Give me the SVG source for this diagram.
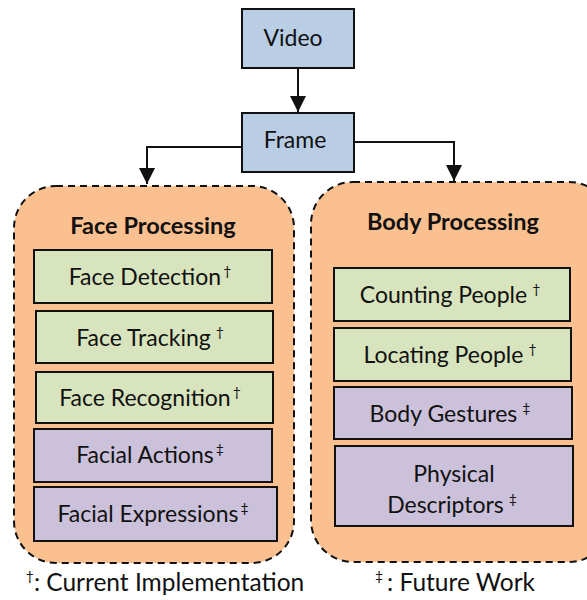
<svg xmlns="http://www.w3.org/2000/svg" width="587" height="600" viewBox="0 0 587 600">
<style>
.t{font-family:Lato,"Open Sans","Liberation Sans",sans-serif;font-size:23px;fill:#111;text-anchor:middle}
.b{font-weight:bold;font-size:23.5px}
.l{font-size:24.5px}
.s{font-size:14px}
.blue{fill:#b9cde5;stroke:#111;stroke-width:2}
.green{fill:#d7e4bd;stroke:#111;stroke-width:2}
.purple{fill:#ccc1da;stroke:#111;stroke-width:2}
.cont{fill:#fac090;stroke:#111;stroke-width:2;stroke-dasharray:7 5}
.conn{fill:none;stroke:#111;stroke-width:2}
</style>
<defs>
<marker id="ah" markerWidth="16" markerHeight="16" viewBox="0 0 16 16" refX="16" refY="8" orient="auto" markerUnits="userSpaceOnUse">
<path d="M0,0 L16,8 L0,16 Z" fill="#111"/>
</marker>
</defs>
<g id="face-processing">
<rect class="cont" x="14" y="186" width="280" height="377" rx="42"/>
<text class="t b" x="153" y="234">Face Processing</text>
</g>
<g id="body-processing">
<rect class="cont" x="311" y="182" width="300" height="380" rx="42"/>
<text class="t b" x="453" y="230">Body Processing</text>
</g>
<g id="video"><rect class="blue" x="242" y="9" width="112" height="59"/><text class="t" x="293" y="46">Video</text></g>
<g id="frame"><rect class="blue" x="242" y="113" width="112" height="59"/><text class="t" x="295" y="148">Frame</text></g>
<g id="face-detection"><rect class="green" x="34" y="250" width="238" height="53"/><text class="t" x="150" y="285">Face Detection<tspan class="s" dx="2" dy="-9">†</tspan></text></g>
<g id="face-tracking"><rect class="green" x="36" y="311" width="237" height="52"/><text class="t" x="150" y="346">Face Tracking<tspan class="s" dx="5" dy="-9">†</tspan></text></g>
<g id="face-recognition"><rect class="green" x="36" y="372" width="237" height="51"/><text class="t" x="150" y="406">Face Recognition<tspan class="s" dx="2" dy="-9">†</tspan></text></g>
<g id="facial-actions"><rect class="purple" x="34" y="429" width="238" height="53"/><text class="t" x="150" y="463">Facial Actions<tspan class="s" dx="2" dy="-9">‡</tspan></text></g>
<g id="facial-expressions"><rect class="purple" x="34" y="487" width="243" height="54"/><text class="t" x="153" y="522">Facial Expressions<tspan class="s" dx="2" dy="-9">‡</tspan></text></g>
<g id="counting-people"><rect class="green" x="334" y="268" width="236" height="53"/><text class="t" x="450" y="303">Counting People<tspan class="s" dx="5" dy="-9">†</tspan></text></g>
<g id="locating-people"><rect class="green" x="334" y="328" width="237" height="53"/><text class="t" x="450" y="363">Locating People<tspan class="s" dx="5" dy="-9">†</tspan></text></g>
<g id="body-gestures"><rect class="purple" x="334" y="387" width="238" height="52"/><text class="t" x="450" y="422">Body Gestures<tspan class="s" dx="5" dy="-9">‡</tspan></text></g>
<g id="physical-descriptors"><rect class="purple" x="335" y="446" width="238" height="80"/><text class="t" x="454" y="482">Physical</text><text class="t" x="452" y="513">Descriptors<tspan class="s" dx="5" dy="-9">‡</tspan></text></g>
<g id="connectors">
<line class="conn" x1="298" y1="69" x2="298" y2="112" marker-end="url(#ah)"/>
<polyline class="conn" points="242,147 147,147 147,184" marker-end="url(#ah)"/>
<polyline class="conn" points="354,142 454,142 454,181" marker-end="url(#ah)"/>
</g>
<g id="legend">
<text class="t l" x="165" y="591"><tspan class="s" dy="-10">†</tspan><tspan dy="10">: Current Implementation</tspan></text>
<text class="t l" x="455" y="591"><tspan class="s" dy="-10">‡</tspan><tspan dx="4" dy="10">: Future Work</tspan></text>
</g>
</svg>
